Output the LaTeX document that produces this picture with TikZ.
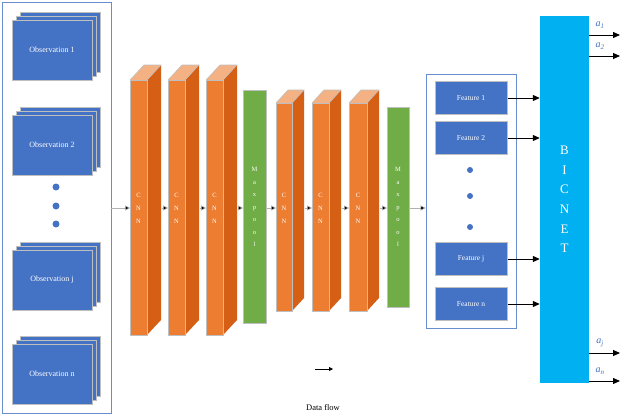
\documentclass[tikz,border=0pt]{standalone}
\usepackage{fontspec}
\setmainfont{Liberation Serif}
\usetikzlibrary{arrows.meta}
\definecolor{obsblue}{HTML}{4472C4}
\definecolor{ofront}{HTML}{ED7D31}
\definecolor{oside}{HTML}{D55F14}
\definecolor{otop}{HTML}{F4B183}
\definecolor{mgreen}{HTML}{70AD47}
\definecolor{bic}{HTML}{00B0F0}
\definecolor{edge}{HTML}{BFBFBF}
\begin{document}
\begin{tikzpicture}[x=1pt,y=-1pt,
  obs/.style={draw=edge,line width=1pt,fill=obsblue,text=white,inner sep=0pt,minimum width=80pt,minimum height=60pt,font=\fontsize{8}{9}\selectfont},
  feat/.style={draw=edge,line width=1pt,fill=obsblue,text=white,inner sep=0pt,minimum width=72pt,minimum height=33pt,font=\fontsize{7.5}{9}\selectfont},
  frame/.style={draw=obsblue!80,line width=0.8pt},
  cnnfront/.style={draw=edge,line width=0.6pt,fill=ofront,anchor=north west,inner sep=0pt},
  pool/.style={draw=edge,line width=0.6pt,fill=mgreen,anchor=north west,inner sep=0pt,text=white,font=\fontsize{6.5}{12.5}\selectfont,align=center},
  vtxt/.style={text=white,font=\fontsize{6.5}{13}\selectfont,align=center},
  flow/.style={draw=gray!60,line width=0.6pt,-{Triangle[length=5pt,width=5pt,fill=black]}},
  farr/.style={draw=black,line width=1pt,-{Triangle[length=7pt,width=6pt]}},
  dot/.style={circle,fill=obsblue,inner sep=0pt,minimum size=7pt},
  alab/.style={text=obsblue,font=\itshape\fontsize{10}{10}\selectfont}]
\useasboundingbox (0,0) rectangle (622,416);
% left frame
\node[frame,minimum width=109pt,minimum height=411pt,inner sep=0pt] (left) at (56.5,207.5) {};
% observation stacks
\foreach \n/\y/\t in {o1/50/Observation 1,o2/145/Observation 2,oj/280/Observation j,on/374/Observation n}{
  \node[obs] (\n b) at (60,\y-8) {};
  \node[obs] (\n m) at (56,\y-4) {};
  \node[obs] (\n) at (52,\y) {\t};
}
\foreach \y [count=\i] in {187,206,224}{\node[dot] (ld\i) at (56,\y) {};}
% 3D CNN blocks: name/x/width/top/bottom/dx/dy
\newcommand{\cnnblock}[7]{%
  \fill[oside] (#2+#3,#4) -- (#2+#3+#6,#4-#7) -- (#2+#3+#6,#5-#7) -- (#2+#3,#5) -- cycle;
  \fill[otop] (#2,#4) -- (#2+#6,#4-#7) -- (#2+#3+#6,#4-#7) -- (#2+#3,#4) -- cycle;
  \draw[edge,line width=0.6pt] (#2,#4) -- (#2+#6,#4-#7) -- (#2+#3+#6,#4-#7) -- (#2+#3,#4);
  \node[cnnfront,minimum width=#3pt,minimum height=#5pt-#4pt] (#1) at (#2,#4) {};
  \node[vtxt] at (#2+#3/2,208) {C\\N\\N};
}
\cnnblock{c1}{130}{17}{80}{335}{14}{15}
\cnnblock{c2}{168}{17}{80}{335}{14}{15}
\cnnblock{c3}{206}{17}{80}{335}{14}{15}
\node[pool,minimum width=23pt,minimum height=233pt] (p1) at (243,90) {};
\node[vtxt,font=\fontsize{6.5}{12.5}\selectfont] at (254.5,207) {M\\a\\x\\p\\o\\o\\l};
\cnnblock{c4}{276}{16}{103}{311}{12}{13}
\cnnblock{c5}{312}{17}{103}{311}{12}{13}
\cnnblock{c6}{349}{18}{103}{311}{12}{13}
\node[pool,minimum width=22pt,minimum height=200pt] (p2) at (387,107) {};
\node[vtxt,font=\fontsize{6.5}{12.5}\selectfont] at (398,207) {M\\a\\x\\p\\o\\o\\l};
% features frame
\node[frame,minimum width=90pt,minimum height=254pt,inner sep=0pt] (fbox) at (471,201) {};
\node[feat] (f1) at (471,98) {Feature 1};
\node[feat] (f2) at (471,138) {Feature 2};
\node[feat] (fj) at (471,259) {Feature j};
\node[feat] (fn) at (471,304) {Feature n};
\foreach \y [count=\i] in {170,196,227}{\node[dot,minimum size=6pt] (fd\i) at (470,\y) {};}
% BICNET
\node[fill=bic,minimum width=49pt,minimum height=367pt,inner sep=0pt,text=white,font=\fontsize{13}{19.6}\selectfont,align=center] (bic) at (564.5,199.5) {B\\I\\C\\N\\E\\T};
% flow arrows
\coordinate (y0) at (0,208);
\draw[flow] (left.east |- y0) -- (c1.west |- y0);
\draw[flow] (c1.east |- y0) ++(14,0) -- (c2.west |- y0);
\draw[flow] (c2.east |- y0) ++(14,0) -- (c3.west |- y0);
\draw[flow] (c3.east |- y0) ++(14,0) -- (p1.west |- y0);
\draw[flow] (p1.east |- y0) -- (c4.west |- y0);
\draw[flow] (c4.east |- y0) ++(12,0) -- (c5.west |- y0);
\draw[flow] (c5.east |- y0) ++(12,0) -- (c6.west |- y0);
\draw[flow] (c6.east |- y0) ++(12,0) -- (p2.west |- y0);
\draw[flow] (p2.east |- y0) -- (fbox.west |- y0);
% feature arrows
\foreach \f in {f1,f2,fj,fn}{\draw[farr] (\f.east) -- (bic.west |- \f.east);}
% outputs
\coordinate (e1) at (620,35); \coordinate (e2) at (620,56);
\coordinate (ej) at (620,353); \coordinate (en) at (620,381);
\foreach \e in {e1,e2,ej,en}{\draw[farr] (bic.east |- \e) -- (\e);}
\node[alab] (l1) at (600,25) {a\textsubscript{1}};
\node[alab] (l2) at (600,46) {a\textsubscript{2}};
\node[alab] (lj) at (600,343) {a\textsubscript{j}};
\node[alab] (ln) at (600,371) {a\textsubscript{n}};
% legend
\coordinate (d1) at (315,369); \coordinate (d2) at (333,369);
\draw[line width=0.8pt,-{Triangle[length=4pt,width=4pt]}] (d1) -- (d2);
\node[font=\fontsize{8.5}{10}\selectfont] (df) at (323,408) {Data flow};
\end{tikzpicture}
\end{document}
